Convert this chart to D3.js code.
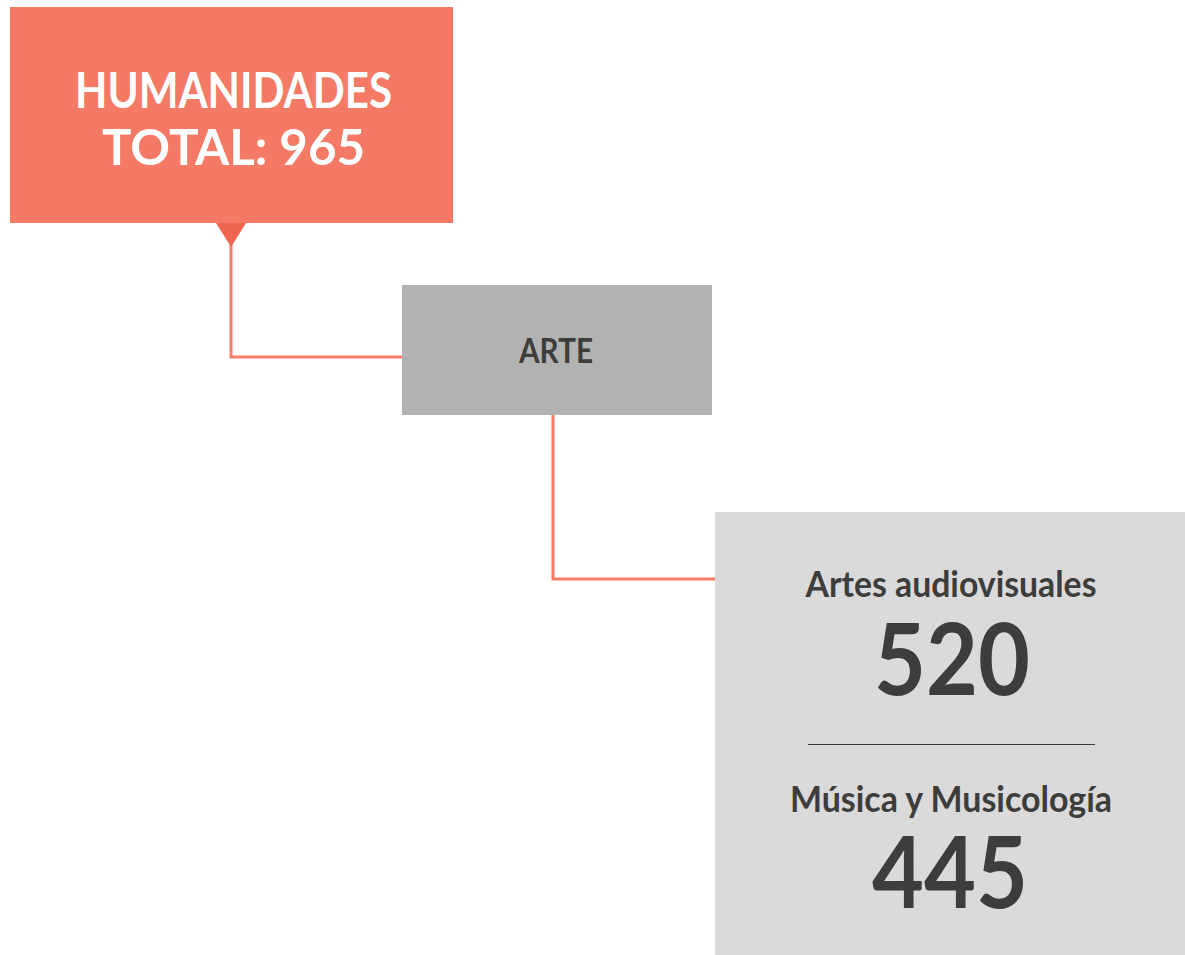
<!DOCTYPE html>
<html><head><meta charset="utf-8">
<script src="https://cdn.jsdelivr.net/npm/d3@7"></script>
<style>html,body{margin:0;padding:0;background:#fff;}</style>
</head><body>
<svg id="c" width="1185" height="955"></svg>
<script>
// ---- data ----
const rootLabel = "HUMANIDADES";
const groupLabels = ["ARTE"];
const leafLabels = ["Artes audiovisuales", "Música y Musicología"];
const leafValues = [520, 445];
const total = d3.sum(leafValues);

const svg = d3.select("#c");
const FONT = "Lato, 'Open Sans', sans-serif";
const dark = "#3d3d3b";
const coral = "#f47a66";

// layout boxes
const rootBox = {x: 10, y: 7, w: 443, h: 216};
const groupBox = {x: 402, y: 285, w: 310, h: 130};
const leafBox = {x: 715, y: 512, w: 470, h: 443};

// connectors
const link = d3.line();
svg.append("path")
  .attr("d", link([[231, 240], [231, 357], [groupBox.x, 357]]))
  .attr("fill", "none").attr("stroke", "#f77d69").attr("stroke-width", 3);
svg.append("path")
  .attr("d", link([[553, groupBox.y + groupBox.h], [553, 579], [leafBox.x, 579]]))
  .attr("fill", "none").attr("stroke", "#fb7b63").attr("stroke-width", 3);

// root box
svg.append("rect").attr("x", rootBox.x).attr("y", rootBox.y)
  .attr("width", rootBox.w).attr("height", rootBox.h).attr("fill", coral);
svg.append("path")
  .attr("d", link([[216, 223], [246, 223], [231, 247]]) + "Z")
  .attr("fill", "#f0654f");

function txt(t, x, y, size, weight, color, len) {
  const el = svg.append("text").attr("x", x).attr("y", y)
    .attr("text-anchor", "middle")
    .attr("font-family", FONT).attr("font-size", size)
    .attr("font-weight", weight).attr("fill", color).text(t);
  if (len) el.attr("textLength", len).attr("lengthAdjust", "spacingAndGlyphs");
  return el;
}

txt(rootLabel, 233.5, 108, 49, 700, "#fff", 317);
txt("TOTAL: " + total, 233.5, 165, 49, 700, "#fff", 263);

// group box
svg.append("rect").attr("x", groupBox.x).attr("y", groupBox.y)
  .attr("width", groupBox.w).attr("height", groupBox.h).attr("fill", "#b2b2b2");
txt(groupLabels[0], 556, 363, 35, 700, dark, 74);

// leaf box
svg.append("rect").attr("x", leafBox.x).attr("y", leafBox.y)
  .attr("width", leafBox.w).attr("height", leafBox.h).attr("fill", "#dadada");

const cx = 951;
txt(leafLabels[0], cx, 597, 36, 700, dark, 291);
txt(String(leafValues[0]), 952, 695, 100, 700, dark, 156);
svg.append("line").attr("x1", 808).attr("x2", 1095).attr("y1", 744.5).attr("y2", 744.5)
  .attr("stroke", "#3d3d3b").attr("stroke-width", 1.2);
txt(leafLabels[1], 951, 812, 36, 700, dark, 322);
txt(String(leafValues[1]), 950, 908, 100, 700, dark, 156);
</script>
</body></html>
